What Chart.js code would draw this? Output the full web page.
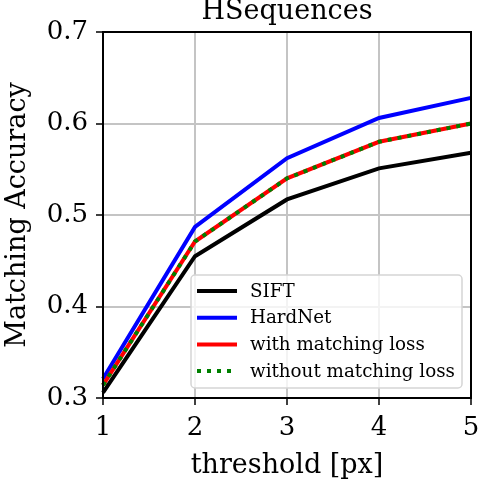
<!DOCTYPE html>
<html>
<head>
<meta charset="utf-8">
<script src="https://cdn.jsdelivr.net/npm/chart.js@4.4.1/dist/chart.umd.min.js"></script>
<style>
  html, body { margin: 0; padding: 0; background: #fff; }
  #wrap { width: 480px; height: 482px; }
</style>
</head>
<body>
<div id="wrap"><canvas id="chart" width="480" height="482"></canvas></div>
<script>
var thresholds = [1, 2, 3, 4, 5];
var sift = [0.306, 0.455, 0.517, 0.551, 0.568];
var hardnet = [0.321, 0.487, 0.562, 0.606, 0.628];
var withLoss = [0.314, 0.471, 0.540, 0.580, 0.600];
var withoutLoss = [0.314, 0.471, 0.540, 0.580, 0.600];
var seriesNames = ["SIFT", "HardNet", "with matching loss", "without matching loss"];
var seriesColors = ["#000000", "#0000ff", "#ff0000", "#008000"];

var FONT = "'DejaVu Serif', serif";

function points(vals) {
  var out = [];
  for (var i = 0; i < thresholds.length; i++) {
    out.push({ x: thresholds[i], y: vals[i] });
  }
  return out;
}

// axes frame, title and the legend box inside the plot
var decor = {
  id: "decor",
  afterDraw: function (chart) {
    var ctx = chart.ctx;
    var a = chart.chartArea;
    ctx.save();
    ctx.strokeStyle = "#000";
    ctx.lineWidth = 2;
    ctx.strokeRect(a.left, a.top, a.right - a.left, a.bottom - a.top);

    ctx.fillStyle = "#000";
    ctx.font = "27px " + FONT;
    ctx.textAlign = "center";
    ctx.textBaseline = "alphabetic";
    ctx.fillText("HSequences", (a.left + a.right) / 2, 19);

    // legend
    var bx = a.left + 88, by = a.top + 243, bw = 271, bh = 113;
    ctx.beginPath();
    ctx.roundRect(bx, by, bw, bh, 4);
    ctx.fillStyle = "rgba(255,255,255,0.8)";
    ctx.fill();
    ctx.strokeStyle = "#d5d5d5";
    ctx.lineWidth = 1.5;
    ctx.stroke();

    ctx.font = "18.3px " + FONT;
    ctx.textAlign = "left";
    ctx.textBaseline = "middle";
    for (var i = 0; i < seriesNames.length; i++) {
      var y = by + 16 + i * 26.7;
      ctx.beginPath();
      ctx.moveTo(bx + 6, y);
      ctx.lineTo(bx + 46, y);
      ctx.strokeStyle = seriesColors[i];
      ctx.lineWidth = 4;
      ctx.setLineDash(i == 3 ? [4, 6] : []);
      ctx.stroke();
      ctx.setLineDash([]);
      ctx.fillStyle = "#000";
      ctx.fillText(seriesNames[i], bx + 59, y + 1);
    }
    ctx.restore();
  }
};

var lines = [sift, hardnet, withLoss, withoutLoss];
var datasets = [];
for (var i = 0; i < lines.length; i++) {
  datasets.push({
    label: seriesNames[i],
    data: points(lines[i]),
    borderColor: seriesColors[i],
    borderWidth: 4,
    borderDash: i == 3 ? [4, 6] : [],
    borderCapStyle: "butt",
    pointRadius: 0,
    tension: 0,
    fill: false,
    clip: 2,
    order: 4 - i
  });
}

var context = document.getElementById("chart").getContext("2d");
var chart = new Chart(context, {
  type: "line",
  data: { datasets: datasets },
  options: {
    responsive: false,
    animation: false,
    layout: { padding: { top: 32, right: 9, left: 0, bottom: 0 } },
    plugins: { legend: { display: false }, tooltip: { enabled: false } },
    scales: {
      x: {
        type: "linear",
        min: 1, max: 5,
        ticks: { stepSize: 1, color: "#000", font: { family: FONT, size: 26 }, padding: 8 },
        grid: { color: "#c4c4c4", lineWidth: 2, tickColor: "#000", tickLength: 7, tickWidth: 1.5 },
        border: { display: false },
        title: { display: true, text: "threshold [px]", color: "#000", font: { family: FONT, size: 27 }, padding: { top: -4, bottom: 0 } },
        afterFit: function (s) { s.height = 84; s.paddingLeft = 0; s.paddingRight = 0; }
      },
      y: {
        type: "linear",
        min: 0.3, max: 0.7,
        ticks: { stepSize: 0.1, color: "#000", font: { family: FONT, size: 26 }, padding: 8,
          callback: function (v) { return v.toFixed(1); } },
        grid: { color: "#c4c4c4", lineWidth: 2, tickColor: "#000", tickLength: 7, tickWidth: 1.5 },
        border: { display: false },
        title: { display: true, text: "Matching Accuracy", color: "#000", font: { family: FONT, size: 27 }, padding: 2 },
        afterFit: function (s) { s.width = 103; s.paddingTop = 0; s.paddingBottom = 0; }
      }
    }
  },
  plugins: [decor]
});
</script>
</body>
</html>
